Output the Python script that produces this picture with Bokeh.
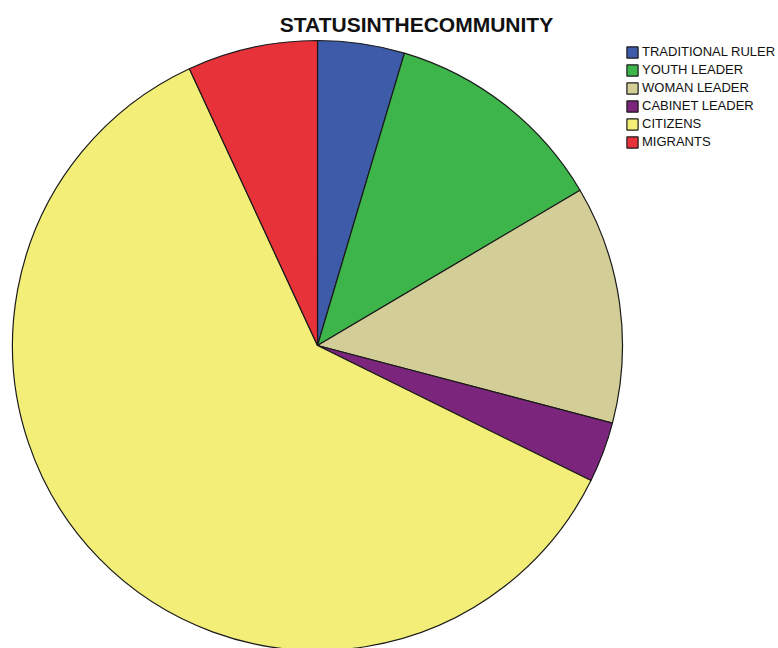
import math
from bokeh.plotting import figure
from bokeh.models import Range1d, ColumnDataSource, Legend, LegendItem
from bokeh.core.properties import value
from bokeh.embed import file_html
from bokeh.resources import INLINE

categories = ["TRADITIONAL RULER", "YOUTH LEADER", "WOMAN LEADER",
              "CABINET LEADER", "CITIZENS", "MIGRANTS"]
shares = [4.6, 11.9, 12.6, 3.2, 60.8, 6.9]
colors = ["#3e5ba9", "#3db54a", "#d3cd98", "#7b267c", "#f3ee78", "#e8323a"]
title_text = "STATUSINTHECOMMUNITY"

W, H = 778, 648
p = figure(width=W, height=H, output_backend="svg", toolbar_location=None,
           x_range=Range1d(0, W), y_range=Range1d(0, H), min_border=0)
p.axis.visible = False
p.grid.visible = False
p.outline_line_color = None

total = sum(shares)
starts, ends = [], []
cum = 0.0
for s in shares:
    a0 = cum / total
    cum += s
    a1 = cum / total
    starts.append(math.pi / 2 - 2 * math.pi * a1)
    ends.append(math.pi / 2 - 2 * math.pi * a0)

src = ColumnDataSource(dict(cat=categories, share=shares, color=colors,
                            start=starts, end=ends))
cx, cy, R = 317, 303, 305
r = p.wedge(x=cx, y=cy, radius=R, start_angle="start", end_angle="end",
            fill_color="color", line_color="#1a1a1a", line_width=1.2, source=src)

items = [LegendItem(label=c, renderers=[r], index=i) for i, c in enumerate(categories)]
legend = Legend(items=items, location=(625, 499), orientation="vertical",
                glyph_width=14, glyph_height=14, label_height=14, spacing=3,
                label_standoff=3, padding=0, margin=0,
                label_text_font="Liberation Sans", label_text_font_size="13px",
                label_text_color="#111111", border_line_alpha=0,
                background_fill_alpha=0)
p.add_layout(legend, "center")

p.text(x=[416], y=[624], text=[title_text], text_align="center",
       text_baseline="middle", text_font=value("Liberation Sans"),
       text_font_style="bold", text_font_size="21px", text_color="#111111")

open("out.html", "w").write(file_html(p, INLINE))
